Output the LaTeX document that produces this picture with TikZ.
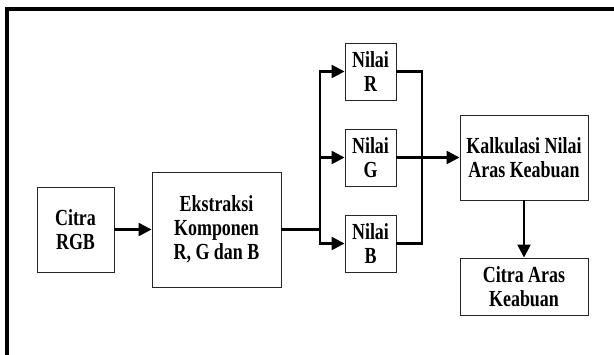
\documentclass[tikz,border=0pt]{standalone}
\usepackage{fontspec}
\setmainfont{Liberation Serif}
\newfontfamily\tegak[FakeStretch=0.78]{Liberation Serif}
\usetikzlibrary{arrows.meta, positioning}

\tikzset{
  blok/.style={draw=black!85, line width=0.9pt, align=center, inner sep=0pt,
    font=\tegak\fontsize{23}{24}\selectfont\bfseries},
  alur/.style={line width=2.4pt, -{Triangle[length=13pt, width=13pt]}},
  garis/.style={line width=2.4pt},
}

\begin{document}
\begin{tikzpicture}[x=1pt, y=-1pt]
        \useasboundingbox (0,0) rectangle (614,354);
        \clip (0,0) rectangle (614,354);
        % bingkai luar
        \draw[line width=4pt] (7,9) rectangle (660,400);
        % blok proses
        \node[blok, minimum width=77pt, minimum height=85pt] (rgb) at (75.5,229.5) {Citra\\RGB};
        \node[blok, minimum width=129pt, minimum height=115pt] (ekstr) at (216.5,229.5) {Ekstraksi\\Komponen\\R, G dan B};
        \node[blok, minimum width=51pt, minimum height=57pt] (nilR) at (370.5,71.5) {Nilai\\R};
        \node[blok, minimum width=51pt, minimum height=57pt] (nilG) at (370.5,157.5) {Nilai\\G};
        \node[blok, minimum width=51pt, minimum height=57pt] (nilB) at (370.5,243.5) {Nilai\\B};
        \node[blok, minimum width=128pt, minimum height=85pt] (kalk) at (524,157.5) {Kalkulasi Nilai\\Aras Keabuan};
        \node[blok, minimum width=128pt, minimum height=57pt] (abu) at (524,286.5) {Citra Aras\\Keabuan};
        \coordinate (pisah) at (320,229.5);
        \coordinate (gabung) at (422,157.5);
        % penghubung
        \draw[alur] (rgb) -- (ekstr);
        \draw[garis] (ekstr.east) -- (pisah);
        \draw[alur] (pisah) |- (nilR.west);
        \draw[alur] (pisah) |- (nilG.west);
        \draw[alur] (pisah) |- (nilB.west);
        \draw[garis] (nilR.east) -| (gabung);
        \draw[garis] (nilB.east) -| (gabung);
        \draw[alur] (nilG.east) -- (kalk.west);
        \draw[alur] (kalk) -- (abu);
      \end{tikzpicture}
\end{document}
